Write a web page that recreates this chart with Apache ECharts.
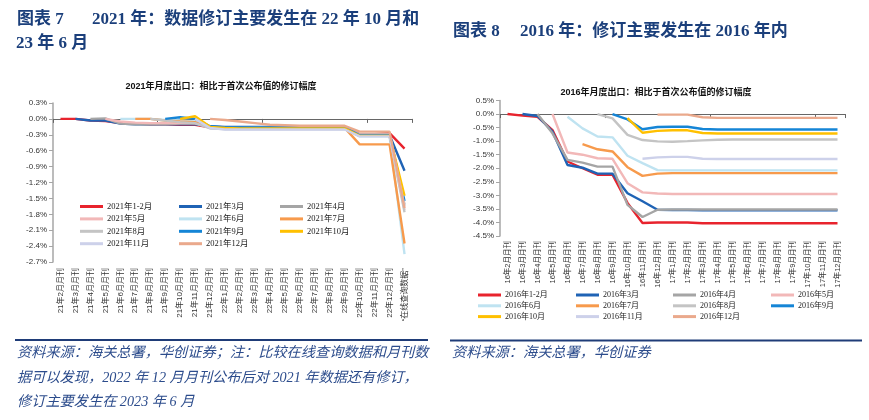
<!DOCTYPE html>
<html><head><meta charset="utf-8">
<script src="https://cdn.jsdelivr.net/npm/echarts@6/dist/echarts.min.js"></script>
<style>html,body{margin:0;padding:0;background:#fff}#c{width:869px;height:420px}</style>
</head><body><div id="c"></div>
<script>
// ---------- Chart A (2021) ----------
const catsA = ['21年2月月刊','21年3月月刊','21年4月月刊','21年5月月刊','21年6月月刊','21年7月月刊','21年8月月刊','21年9月月刊','21年10月月刊','21年11月月刊','21年12月月刊',
  '22年1月月刊','22年2月月刊','22年3月月刊','22年4月月刊','22年5月月刊','22年6月月刊','22年7月月刊','22年8月月刊','22年9月月刊','22年10月月刊','22年11月月刊','22年12月月刊','“在线查询数据”'];
const namesA = ['2021年1-2月','2021年3月','2021年4月','2021年5月','2021年6月','2021年7月','2021年8月','2021年9月','2021年10月','2021年11月','2021年12月'];
const a01 = [0,0,-0.03,-0.04,-0.08,-0.09,-0.10,-0.10,-0.11,-0.11, -0.16,-0.17,-0.17,-0.17,-0.17,-0.17,-0.17,-0.17,-0.17,-0.17, -0.29,-0.29,-0.27,-0.56];
const a03 = [null,0,-0.03,-0.03,-0.09,-0.10,-0.10,-0.10,-0.10,-0.10, -0.14,-0.15,-0.15,-0.15,-0.15,-0.15,-0.15,-0.15,-0.15,-0.15, -0.31,-0.31,-0.31,-0.98];
const a04 = [null,null,0,0.01,-0.09,-0.10,-0.10,-0.10,-0.09,-0.09, -0.16,-0.17,-0.17,-0.16,-0.16,-0.16,-0.16,-0.16,-0.16,-0.16, -0.29,-0.29,-0.29,-1.62];
const a05 = [null,null,null,0,-0.05,-0.07,-0.08,-0.08,-0.08,-0.08, -0.15,-0.18,-0.18,-0.18,-0.18,-0.18,-0.18,-0.18,-0.18,-0.18, -0.30,-0.30,-0.30,-1.72];
const a06 = [null,null,null,null,0,0,0,-0.02,-0.03,-0.05, -0.17,-0.19,-0.19,-0.19,-0.19,-0.19,-0.19,-0.19,-0.19,-0.19, -0.33,-0.33,-0.33,-2.55];
const a07 = [null,null,null,null,null,0,0,-0.03,-0.05,-0.06, -0.15,-0.17,-0.17,-0.17,-0.17,-0.17,-0.17,-0.17,-0.17,-0.17, -0.48,-0.48,-0.48,-2.35];
const a08 = [null,null,null,null,null,null,0,-0.03,-0.06,-0.08, -0.18,-0.19,-0.19,-0.19,-0.19,-0.19,-0.19,-0.19,-0.19,-0.19, -0.32,-0.32,-0.32,-1.76];
const a09 = [null,null,null,null,null,null,null,0,0.03,0.0, -0.14,-0.16,-0.16,-0.16,-0.16,-0.16,-0.16,-0.16,-0.16,-0.16, -0.31,-0.31,-0.31,-1.55];
const a10 = [null,null,null,null,null,null,null,null,0,0.05, -0.15,-0.17,-0.18,-0.18,-0.18,-0.18,-0.18,-0.18,-0.18,-0.18, -0.32,-0.32,-0.32,-1.45];
const a11 = [null,null,null,null,null,null,null,null,null,0, -0.17,-0.20,-0.20,-0.20,-0.20,-0.20,-0.20,-0.20,-0.20,-0.20, -0.33,-0.33,-0.33,-1.65];
const a12 = [null,null,null,null,null,null,null,null,null,null, 0,-0.02,-0.05,-0.08,-0.11,-0.12,-0.13,-0.13,-0.13,-0.13, -0.24,-0.24,-0.24,-1.68];
const valuesA = [a01,a03,a04,a05,a06,a07,a08,a09,a10,a11,a12];

// ---------- Chart B (2016) ----------
const catsB = ['16年2月月刊','16年3月月刊','16年4月月刊','16年5月月刊','16年6月月刊','16年7月月刊','16年8月月刊','16年9月月刊','16年10月月刊','16年11月月刊','16年12月月刊',
  '17年1月月刊','17年2月月刊','17年3月月刊','17年4月月刊','17年5月月刊','17年6月月刊','17年7月月刊','17年8月月刊','17年9月月刊','17年10月月刊','17年11月月刊','17年12月月刊'];
const namesB = ['2016年1-2月','2016年3月','2016年4月','2016年5月','2016年6月','2016年7月','2016年8月','2016年9月','2016年10月','2016年11月','2016年12月'];
const b01 = [0,-0.06,-0.10,-0.59,-1.75,-2.00,-2.24,-2.24,-3.28,-4.02,-4.00, -4.00,-4.00,-4.03,-4.03,-4.03,-4.03,-4.03,-4.03,-4.03,-4.03,-4.03,-4.03];
const b03 = [null,0,-0.07,-0.65,-1.88,-1.98,-2.20,-2.20,-2.92,-3.22,-3.53, -3.54,-3.54,-3.55,-3.55,-3.55,-3.55,-3.55,-3.55,-3.55,-3.55,-3.55,-3.55];
const b04 = [null,null,0,-0.71,-1.69,-1.79,-1.94,-1.94,-3.35,-3.80,-3.53, -3.52,-3.52,-3.52,-3.52,-3.52,-3.52,-3.52,-3.52,-3.52,-3.52,-3.52,-3.52];
const b05 = [null,null,null,0,-1.42,-1.50,-1.63,-1.65,-2.55,-2.89,-2.93, -2.95,-2.95,-2.95,-2.95,-2.95,-2.95,-2.95,-2.95,-2.95,-2.95,-2.95,-2.95];
const b06 = [null,null,null,null,-0.10,-0.53,-0.83,-0.86,-1.54,-1.81,-2.07, -2.08,-2.08,-2.08,-2.08,-2.08,-2.08,-2.08,-2.08,-2.08,-2.08,-2.08,-2.08];
const b07 = [null,null,null,null,null,-1.11,-1.30,-1.38,-1.96,-2.28,-2.20, -2.18,-2.18,-2.18,-2.18,-2.18,-2.18,-2.18,-2.18,-2.18,-2.18,-2.18,-2.18];
const b08 = [null,null,null,null,null,null,0,-0.16,-0.77,-0.96,-1.01, -1.02,-1.00,-0.97,-0.95,-0.94,-0.94,-0.94,-0.94,-0.94,-0.94,-0.94,-0.94];
const b09 = [null,null,null,null,null,null,null,0,-0.20,-0.56,-0.48, -0.47,-0.47,-0.55,-0.57,-0.57,-0.57,-0.57,-0.57,-0.57,-0.57,-0.57,-0.57];
const b10 = [null,null,null,null,null,null,null,null,-0.15,-0.69,-0.62, -0.60,-0.60,-0.70,-0.72,-0.72,-0.72,-0.72,-0.72,-0.72,-0.72,-0.72,-0.72];
const b11 = [null,null,null,null,null,null,null,null,null,-1.65,-1.60, -1.58,-1.58,-1.65,-1.66,-1.66,-1.66,-1.66,-1.66,-1.66,-1.66,-1.66,-1.66];
const b12 = [null,null,null,null,null,null,null,null,null,null,-0.02, -0.02,-0.02,-0.12,-0.14,-0.14,-0.14,-0.14,-0.14,-0.14,-0.14,-0.14,-0.14];
const valuesB = [b01,b03,b04,b05,b06,b07,b08,b09,b10,b11,b12];

// ---------- Styles ----------
const colors = ['#e8232d','#1f63b5','#a5a5a5','#f2b8b8','#bfe3f1','#f79a4c','#c4c4c4','#1585d6','#ffc000','#cdd1ea','#eaa98c'];
const SERIF = '"Liberation Serif","Noto Sans CJK SC",serif';
const SANS = '"Liberation Sans","Noto Sans CJK SC",sans-serif';
const NAVY = '#1b3f7b';
const FOOT = '#2c4c8c';

function mkSeries(names, values, xi, yi) {
  return names.map((n, i) => ({
    name: n, type: 'line', xAxisIndex: xi, yAxisIndex: yi, data: values[i],
    symbol: 'none', connectNulls: false, color: colors[i],
    lineStyle: { width: 2.4, color: colors[i] }, emphasis: { disabled: true }, z: 2
  }));
}
function legendCol(names, left, top, gap, fs) {
  return { data: names, left: left, top: top, orient: 'vertical', icon: 'rect', itemWidth: 23, itemHeight: 3,
    itemGap: gap, selectedMode: false, padding: 0,
    textStyle: { fontSize: fs, fontFamily: SERIF, color: '#222', lineHeight: 10, padding: [0,0,0,-1] } };
}
function yLabel(v) { return v.toFixed(1) + '%'; }
function head(text, x, y) {
  return { type: 'text', x: x, y: y, style: { text: text, fill: NAVY, fontSize: 17, fontWeight: 'bold',
    fontFamily: SERIF, verticalAlign: 'middle' } };
}
function foot(text, x, y) {
  return { type: 'text', x: x, y: y, style: { text: text, fill: FOOT, fontSize: 14.2, fontStyle: 'italic',
    fontFamily: SERIF, verticalAlign: 'middle' } };
}

const option = {
  animation: false,
  grid: [
    { left: 53, top: 103, width: 359, height: 159 },
    { left: 500, top: 100.5, width: 345, height: 135.5 }
  ],
  xAxis: [
    { gridIndex: 0, type: 'category', data: catsA, position: 'bottom', boundaryGap: true,
      axisLine: { show: false, onZero: false }, axisTick: { show: false },
      axisLabel: { interval: 0, rotate: 90, fontSize: 8, fontFamily: SANS, color: '#333', margin: 6 } },
    { gridIndex: 0, type: 'category', data: catsA, position: 'top', boundaryGap: true,
      axisLine: { show: true, onZero: true, lineStyle: { color: '#666', width: 1 } },
      axisTick: { show: true, inside: true, length: 4, lineStyle: { color: '#666' } },
      axisLabel: { show: false } },
    { gridIndex: 1, type: 'category', data: catsB, position: 'bottom', boundaryGap: true,
      axisLine: { show: false, onZero: false }, axisTick: { show: false },
      axisLabel: { interval: 0, rotate: 90, fontSize: 7.5, fontFamily: SANS, color: '#333', margin: 5 } },
    { gridIndex: 1, type: 'category', data: catsB, position: 'top', boundaryGap: true,
      axisLine: { show: true, onZero: true, lineStyle: { color: '#666', width: 1 } },
      axisTick: { show: true, inside: true, length: 4, lineStyle: { color: '#666' } },
      axisLabel: { show: false } }
  ],
  yAxis: [
    { gridIndex: 0, type: 'value', min: -2.7, max: 0.3, interval: 0.3,
      axisLine: { show: true, lineStyle: { color: '#a6a6a6', width: 1.5 } },
      axisTick: { show: true, length: 4, lineStyle: { color: '#a6a6a6' } },
      splitLine: { show: false },
      axisLabel: { formatter: yLabel, fontSize: 8, fontFamily: SANS, color: '#333', margin: 6 } },
    { gridIndex: 1, type: 'value', min: -4.5, max: 0.5, interval: 0.5,
      axisLine: { show: true, lineStyle: { color: '#a6a6a6', width: 1.5 } },
      axisTick: { show: true, length: 4, lineStyle: { color: '#a6a6a6' } },
      splitLine: { show: false },
      axisLabel: { formatter: yLabel, fontSize: 8, fontFamily: SANS, color: '#333', margin: 6 } }
  ],
  legend: [
    legendCol([namesA[0], namesA[3], namesA[6], namesA[9]], 80, 201.5, 2.4, 8.5),
    legendCol([namesA[1], namesA[4], namesA[7], namesA[10]], 179, 201.5, 2.4, 8.5),
    legendCol([namesA[2], namesA[5], namesA[8]], 280, 201.5, 2.4, 8.5),
    legendCol([namesB[0], namesB[4], namesB[8]], 478, 290, 0.8, 8),
    legendCol([namesB[1], namesB[5], namesB[9]], 576, 290, 0.8, 8),
    legendCol([namesB[2], namesB[6], namesB[10]], 673, 290, 0.8, 8),
    legendCol([namesB[3], namesB[7]], 771, 290, 0.8, 8)
  ],
  series: mkSeries(namesA, valuesA, 0, 0).concat(mkSeries(namesB, valuesB, 2, 1)),
  graphic: [
    head('图表 7', 17, 19.5),
    head('2021 年：数据修订主要发生在 22 年 10 月和', 92, 19.5),
    head('23 年 6 月', 16, 43.5),
    head('图表 8', 453, 31.5),
    head('2016 年：修订主要发生在 2016 年内', 520, 31.5),
    { type: 'text', x: 221, y: 87, style: { text: '2021年月度出口：相比于首次公布值的修订幅度', fill: '#111',
      fontSize: 9, fontWeight: 'bold', fontFamily: SANS, align: 'center', verticalAlign: 'middle' } },
    { type: 'text', x: 656, y: 93, style: { text: '2016年月度出口：相比于首次公布值的修订幅度', fill: '#111',
      fontSize: 9, fontWeight: 'bold', fontFamily: SANS, align: 'center', verticalAlign: 'middle' } },
    { type: 'line', shape: { x1: 15, y1: 340, x2: 428, y2: 340 }, style: { stroke: '#1f3c78', lineWidth: 2 } },
    { type: 'line', shape: { x1: 450, y1: 340.5, x2: 862, y2: 340.5 }, style: { stroke: '#1f3c78', lineWidth: 2 } },
    foot('资料来源：海关总署，华创证券；注：比较在线查询数据和月刊数', 17, 353),
    foot('据可以发现，2022 年 12 月月刊公布后对 2021 年数据还有修订，', 17, 378),
    foot('修订主要发生在 2023 年 6 月', 17, 402),
    foot('资料来源：海关总署，华创证券', 452, 353)
  ]
};
const chart = echarts.init(document.getElementById('c'));
chart.setOption(option);
</script>
</body></html>
